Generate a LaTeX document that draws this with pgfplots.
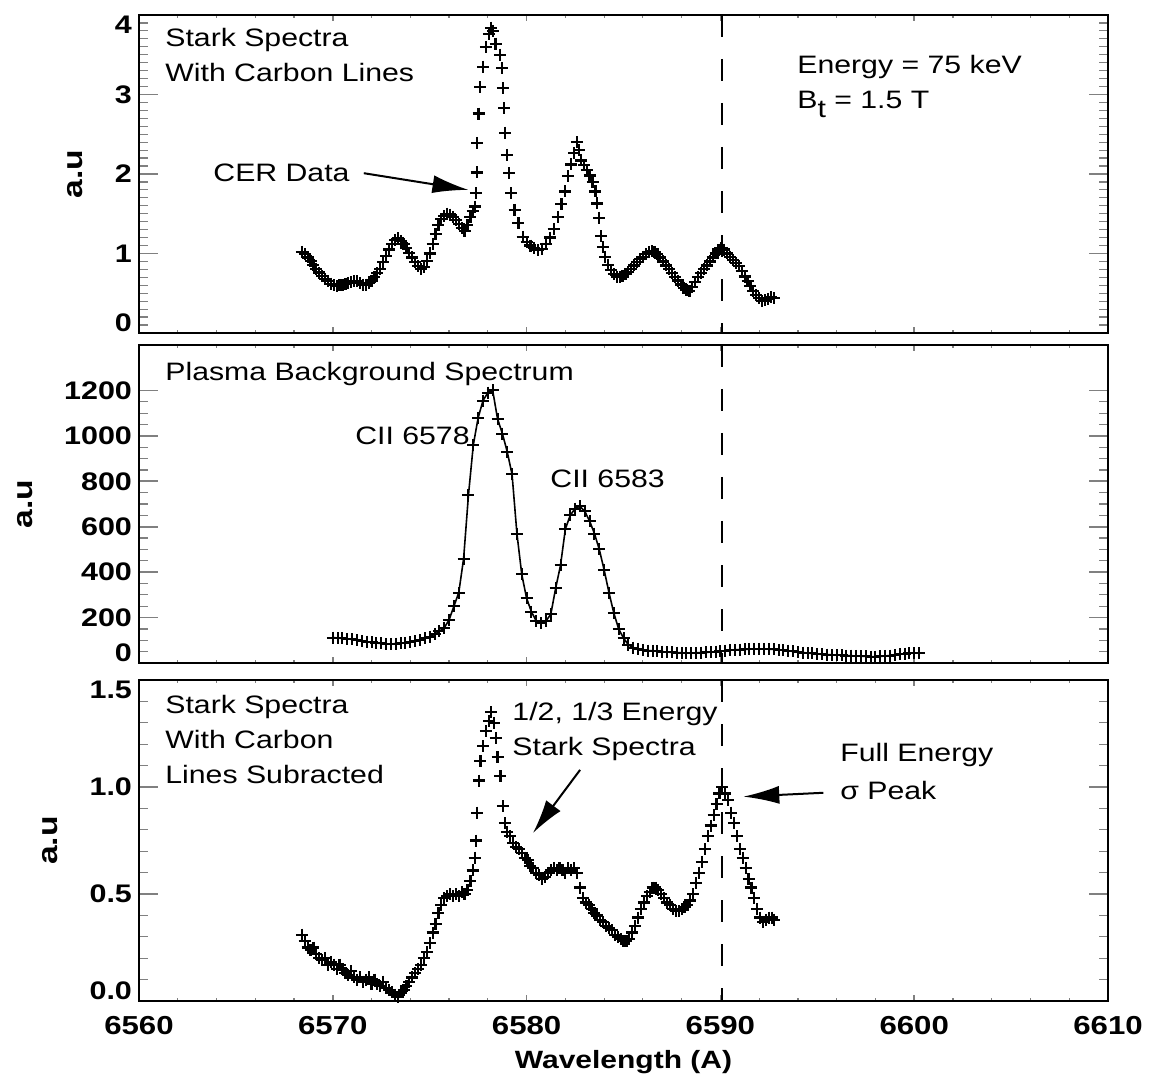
\documentclass[border=0pt]{standalone}
\usepackage{fontspec}
\setmainfont{Liberation Sans}[FakeStretch=1.2]
\usepackage{pgfplots}
\pgfplotsset{compat=1.18}
\usetikzlibrary{arrows.meta}

\pgfplotsset{
  spec/.style={
    scale only axis, width=484.5pt, anchor=south west,
    xmin=6560, xmax=6610, enlargelimits=false,
    xtick={6560,6570,...,6610}, minor x tick num=4,
    axis line style={line width=1pt},
    tick pos=both, tick align=inside,
    major x tick style={line width=0.8pt,/pgfplots/major tick length=3pt},
    minor x tick style={line width=0.6pt,/pgfplots/minor tick length=1.5pt},
    major y tick style={line width=0.8pt,/pgfplots/major tick length=9.5pt},
    minor y tick style={line width=0.6pt,/pgfplots/minor tick length=4.5pt},
    yticklabel style={font=\bfseries\fontsize{12.7}{14}\selectfont},
    xticklabel style={font=\bfseries\fontsize{13}{15}\selectfont},
    /pgf/number format/assume math mode=true,
    /pgf/number format/1000 sep={},
    ylabel={a.u},
    ylabel style={font=\bfseries\fontsize{14}{16}\selectfont},
    ylabel shift=9pt,
  },
  pts/.style={only marks, mark=+, mark size=3pt, mark options={line width=1.1pt}, black},
  vline/.style={black, line width=1pt, dash pattern=on 11pt off 11pt},
}
\tikzset{
  ann/.style={font=\fontsize{12.6}{17.5}\selectfont, align=left, inner sep=0pt},
  arr/.style={line width=1pt, -{Latex[length=18pt,width=9pt]}},
}

\begin{document}
\begin{tikzpicture}
\path[use as bounding box] (0,0) rectangle (574.5pt,541pt);

% ---- top: CER data
\begin{axis}[spec, at={(69.5pt,374.5pt)}, height=159pt,
  ymin=0, ymax=4, ytick={0,1,2,3,4}, minor y tick num=9,
  yticklabel style={yshift={(\ticknum==0)*5pt-(\ticknum==4)*5pt}},
  xticklabel=\empty]
\addplot[pts] table {
6568.40 1.02
6568.55 0.99
6568.70 0.95
6568.85 0.91
6569.00 0.86
6569.15 0.81
6569.30 0.76
6569.45 0.72
6569.60 0.68
6569.75 0.65
6569.90 0.62
6570.05 0.60
6570.20 0.59
6570.35 0.60
6570.50 0.61
6570.65 0.62
6570.80 0.63
6570.95 0.64
6571.10 0.65
6571.25 0.65
6571.40 0.63
6571.55 0.61
6571.70 0.61
6571.85 0.63
6572.00 0.66
6572.15 0.70
6572.30 0.75
6572.45 0.81
6572.60 0.89
6572.75 0.97
6572.90 1.05
6573.05 1.12
6573.20 1.17
6573.35 1.19
6573.50 1.16
6573.65 1.12
6573.80 1.07
6573.95 1.01
6574.10 0.95
6574.25 0.89
6574.40 0.84
6574.55 0.80
6574.70 0.83
6574.85 0.91
6575.00 1.00
6575.15 1.12
6575.30 1.25
6575.45 1.36
6575.60 1.43
6575.75 1.47
6575.90 1.50
6576.05 1.49
6576.20 1.46
6576.35 1.42
6576.50 1.37
6576.65 1.32
6576.80 1.28
6576.95 1.36
6577.10 1.46
6577.22 1.53
6577.34 1.59
6577.38 1.76
6577.42 2.02
6577.46 2.39
6577.52 2.76
6577.60 3.09
6577.76 3.35
6577.90 3.60
6578.05 3.76
6578.18 3.84
6578.28 3.80
6578.40 3.64
6578.62 3.50
6578.74 3.33
6578.78 3.08
6578.84 2.83
6578.90 2.52
6578.98 2.24
6579.10 2.01
6579.20 1.76
6579.38 1.55
6579.58 1.38
6579.80 1.21
6580.00 1.14
6580.20 1.10
6580.40 1.07
6580.60 1.04
6580.80 1.06
6581.00 1.12
6581.20 1.20
6581.40 1.31
6581.60 1.46
6581.80 1.62
6582.00 1.78
6582.15 1.97
6582.30 2.12
6582.45 2.26
6582.60 2.40
6582.70 2.30
6582.80 2.17
6582.95 2.11
6583.10 2.05
6583.25 1.98
6583.40 1.90
6583.55 1.78
6583.65 1.63
6583.75 1.45
6583.85 1.22
6583.95 1.08
6584.05 0.96
6584.20 0.86
6584.35 0.79
6584.50 0.74
6584.65 0.71
6584.80 0.71
6584.95 0.72
6585.10 0.74
6585.25 0.77
6585.40 0.81
6585.55 0.85
6585.70 0.89
6585.85 0.93
6586.00 0.96
6586.15 0.99
6586.30 1.02
6586.45 1.03
6586.60 1.02
6586.75 0.99
6586.90 0.95
6587.05 0.90
6587.20 0.85
6587.35 0.80
6587.50 0.75
6587.65 0.70
6587.80 0.66
6587.95 0.61
6588.10 0.57
6588.25 0.54
6588.40 0.53
6588.55 0.58
6588.70 0.64
6588.85 0.70
6589.00 0.75
6589.15 0.80
6589.30 0.85
6589.45 0.90
6589.60 0.95
6589.75 1.00
6589.90 1.05
6590.05 1.07
6590.20 1.05
6590.35 1.00
6590.50 0.96
6590.65 0.92
6590.80 0.88
6590.95 0.84
6591.10 0.78
6591.25 0.71
6591.40 0.65
6591.55 0.59
6591.70 0.53
6591.85 0.48
6592.00 0.44
6592.15 0.40
6592.30 0.41
6592.45 0.43
6592.60 0.45
6592.75 0.44
};
\addplot[vline] coordinates {(6590.1,4) (6590.1,0)};
\node[ann, anchor=north west] at (axis cs:6561.34,3.84) {Stark Spectra\\With Carbon Lines};
\node[ann, anchor=north west] at (axis cs:6593.95,3.50) {Energy = 75 keV\\B\raisebox{-4.5pt}{t} = 1.5 T};
\node[ann, anchor=west] at (axis cs:6563.82,2.01) {CER Data};
\draw[arr] (axis cs:6571.6,2.01) -- (axis cs:6577.0,1.80);
\end{axis}

% ---- middle: plasma background
\begin{axis}[spec, at={(69.5pt,209.5pt)}, height=159pt,
  ymin=0, ymax=1400, ytick={0,200,...,1200}, minor y tick num=3,
  yticklabel style={yshift={(\ticknum==0)*5pt}},
  xticklabel=\empty]
\addplot[black, line width=0.8pt, mark=+, mark size=3pt, mark options={line width=1pt}] table {
6570.00 112
6570.25 110
6570.50 108
6570.75 106
6571.00 104
6571.25 100
6571.50 97
6571.75 94
6572.00 91
6572.25 88
6572.50 86
6572.75 84
6573.00 84
6573.25 85
6573.50 87
6573.75 89
6574.00 92
6574.25 95
6574.50 100
6574.75 108
6575.00 116
6575.25 126
6575.50 140
6575.75 155
6576.00 190
6576.25 250
6576.50 310
6576.75 460
6577.00 740
6577.25 960
6577.50 1080
6577.75 1155
6578.00 1190
6578.25 1200
6578.50 1075
6578.75 1010
6579.00 930
6579.25 830
6579.50 570
6579.75 390
6580.00 285
6580.25 225
6580.50 185
6580.75 175
6581.00 185
6581.25 215
6581.50 330
6581.75 430
6582.00 590
6582.25 650
6582.50 680
6582.75 690
6583.00 668
6583.25 625
6583.50 570
6583.75 500
6584.00 410
6584.25 310
6584.50 220
6584.75 150
6585.00 110
6585.25 80
6585.50 68
6585.75 62
6586.00 58
6586.25 55
6586.50 54
6586.75 52
6587.00 50
6587.25 48
6587.50 47
6587.75 46
6588.00 45
6588.25 44
6588.50 44
6588.75 45
6589.00 46
6589.25 47
6589.50 48
6589.75 50
6590.00 52
6590.25 54
6590.50 56
6590.75 58
6591.00 59
6591.25 60
6591.50 61
6591.75 62
6592.00 62
6592.25 62
6592.50 61
6592.75 60
6593.00 58
6593.25 56
6593.50 54
6593.75 51
6594.00 48
6594.25 46
6594.50 44
6594.75 42
6595.00 40
6595.25 38
6595.50 37
6595.75 36
6596.00 35
6596.25 34
6596.50 33
6596.75 32
6597.00 31
6597.25 30
6597.50 29
6597.75 28
6598.00 28
6598.25 29
6598.50 31
6598.75 33
6599.00 36
6599.25 39
6599.50 41
6599.75 43
6600.00 44
6600.25 44
};
\addplot[vline] coordinates {(6590.1,1400) (6590.1,0)};
\node[ann, anchor=north west] at (axis cs:6561.34,1325) {Plasma Background Spectrum};
\node[ann, anchor=north east] at (axis cs:6577.08,1039) {CII 6578};
\node[ann, anchor=north west] at (axis cs:6581.21,850) {CII 6583};
\end{axis}

% ---- bottom: carbon lines subtracted
\begin{axis}[spec, at={(69.5pt,40.5pt)}, height=160.5pt,
  ymin=0, ymax=1.5, ytick={0,0.5,1,1.5}, minor y tick num=4,
  yticklabel style={yshift={(\ticknum==0)*5pt-(\ticknum==3)*5pt},
    /pgf/number format/.cd, fixed, fixed zerofill, precision=1},
  xticklabel shift=4pt,
  xlabel={Wavelength (A)},
  xlabel style={font=\bfseries\fontsize{12.5}{14}\selectfont},
  xlabel shift=1pt]
\addplot[pts] table {
6568.40 0.31
6568.55 0.28
6568.70 0.25
6568.85 0.24
6569.00 0.25
6569.15 0.22
6569.30 0.20
6569.45 0.19
6569.60 0.20
6569.75 0.17
6569.90 0.18
6570.05 0.17
6570.20 0.15
6570.35 0.17
6570.50 0.15
6570.65 0.13
6570.80 0.12
6570.95 0.14
6571.10 0.11
6571.25 0.10
6571.40 0.11
6571.55 0.09
6571.70 0.10
6571.85 0.11
6572.00 0.08
6572.15 0.10
6572.30 0.08
6572.45 0.07
6572.60 0.09
6572.75 0.06
6572.90 0.05
6573.05 0.04
6573.20 0.03
6573.35 0.02
6573.50 0.04
6573.65 0.05
6573.80 0.07
6573.95 0.09
6574.10 0.11
6574.25 0.13
6574.40 0.15
6574.55 0.17
6574.70 0.20
6574.85 0.23
6575.00 0.27
6575.15 0.32
6575.30 0.36
6575.45 0.41
6575.60 0.45
6575.75 0.48
6575.90 0.49
6576.05 0.50
6576.20 0.49
6576.35 0.50
6576.50 0.49
6576.65 0.51
6576.80 0.50
6576.95 0.52
6577.10 0.56
6577.22 0.61
6577.32 0.67
6577.38 0.75
6577.46 0.88
6577.54 1.03
6577.62 1.12
6577.75 1.19
6577.90 1.26
6578.05 1.31
6578.18 1.35
6578.30 1.30
6578.40 1.23
6578.50 1.14
6578.65 1.05
6578.78 0.91
6578.88 0.83
6579.00 0.79
6579.15 0.77
6579.30 0.74
6579.45 0.72
6579.60 0.71
6579.75 0.69
6579.90 0.67
6580.05 0.66
6580.20 0.63
6580.35 0.62
6580.50 0.60
6580.65 0.59
6580.80 0.57
6580.95 0.58
6581.10 0.60
6581.25 0.61
6581.40 0.62
6581.55 0.61
6581.70 0.62
6581.85 0.61
6582.00 0.60
6582.15 0.62
6582.30 0.61
6582.45 0.62
6582.60 0.60
6582.75 0.53
6582.90 0.48
6583.05 0.46
6583.20 0.45
6583.35 0.43
6583.50 0.41
6583.65 0.40
6583.80 0.38
6583.95 0.37
6584.10 0.35
6584.25 0.34
6584.40 0.33
6584.55 0.31
6584.70 0.30
6584.85 0.29
6585.00 0.28
6585.15 0.28
6585.30 0.29
6585.45 0.32
6585.60 0.35
6585.75 0.39
6585.90 0.43
6586.05 0.46
6586.20 0.49
6586.35 0.51
6586.50 0.53
6586.65 0.53
6586.80 0.52
6586.95 0.50
6587.10 0.48
6587.25 0.46
6587.40 0.45
6587.55 0.43
6587.70 0.42
6587.85 0.42
6588.00 0.43
6588.15 0.44
6588.30 0.45
6588.45 0.47
6588.60 0.50
6588.75 0.55
6588.90 0.60
6589.05 0.65
6589.20 0.71
6589.35 0.77
6589.50 0.82
6589.65 0.87
6589.80 0.92
6589.95 0.97
6590.10 1.00
6590.25 0.97
6590.40 0.94
6590.55 0.88
6590.70 0.83
6590.85 0.77
6591.00 0.71
6591.15 0.67
6591.30 0.62
6591.45 0.57
6591.60 0.53
6591.75 0.48
6591.90 0.43
6592.05 0.39
6592.20 0.37
6592.35 0.38
6592.50 0.39
6592.65 0.39
6592.75 0.38
};
\addplot[vline] coordinates {(6590.1,1.5) (6590.1,0)};
\node[ann, anchor=north west] at (axis cs:6561.34,1.43) {Stark Spectra\\With Carbon\\Lines Subracted};
\node[ann, anchor=north west] at (axis cs:6579.25,1.40) {1/2, 1/3 Energy\\Stark Spectra};
\node[ann, anchor=north west, font=\fontsize{12.6}{19}\selectfont] at (axis cs:6596.17,1.206) {Full Energy\\σ Peak};
\draw[arr, -{Latex[length=17pt,width=9pt]}] (axis cs:6582.76,1.08) -- (axis cs:6580.33,0.785);
\draw[arr] (axis cs:6595.31,0.973) -- (axis cs:6591.18,0.955);
\end{axis}
\end{tikzpicture}
\end{document}
